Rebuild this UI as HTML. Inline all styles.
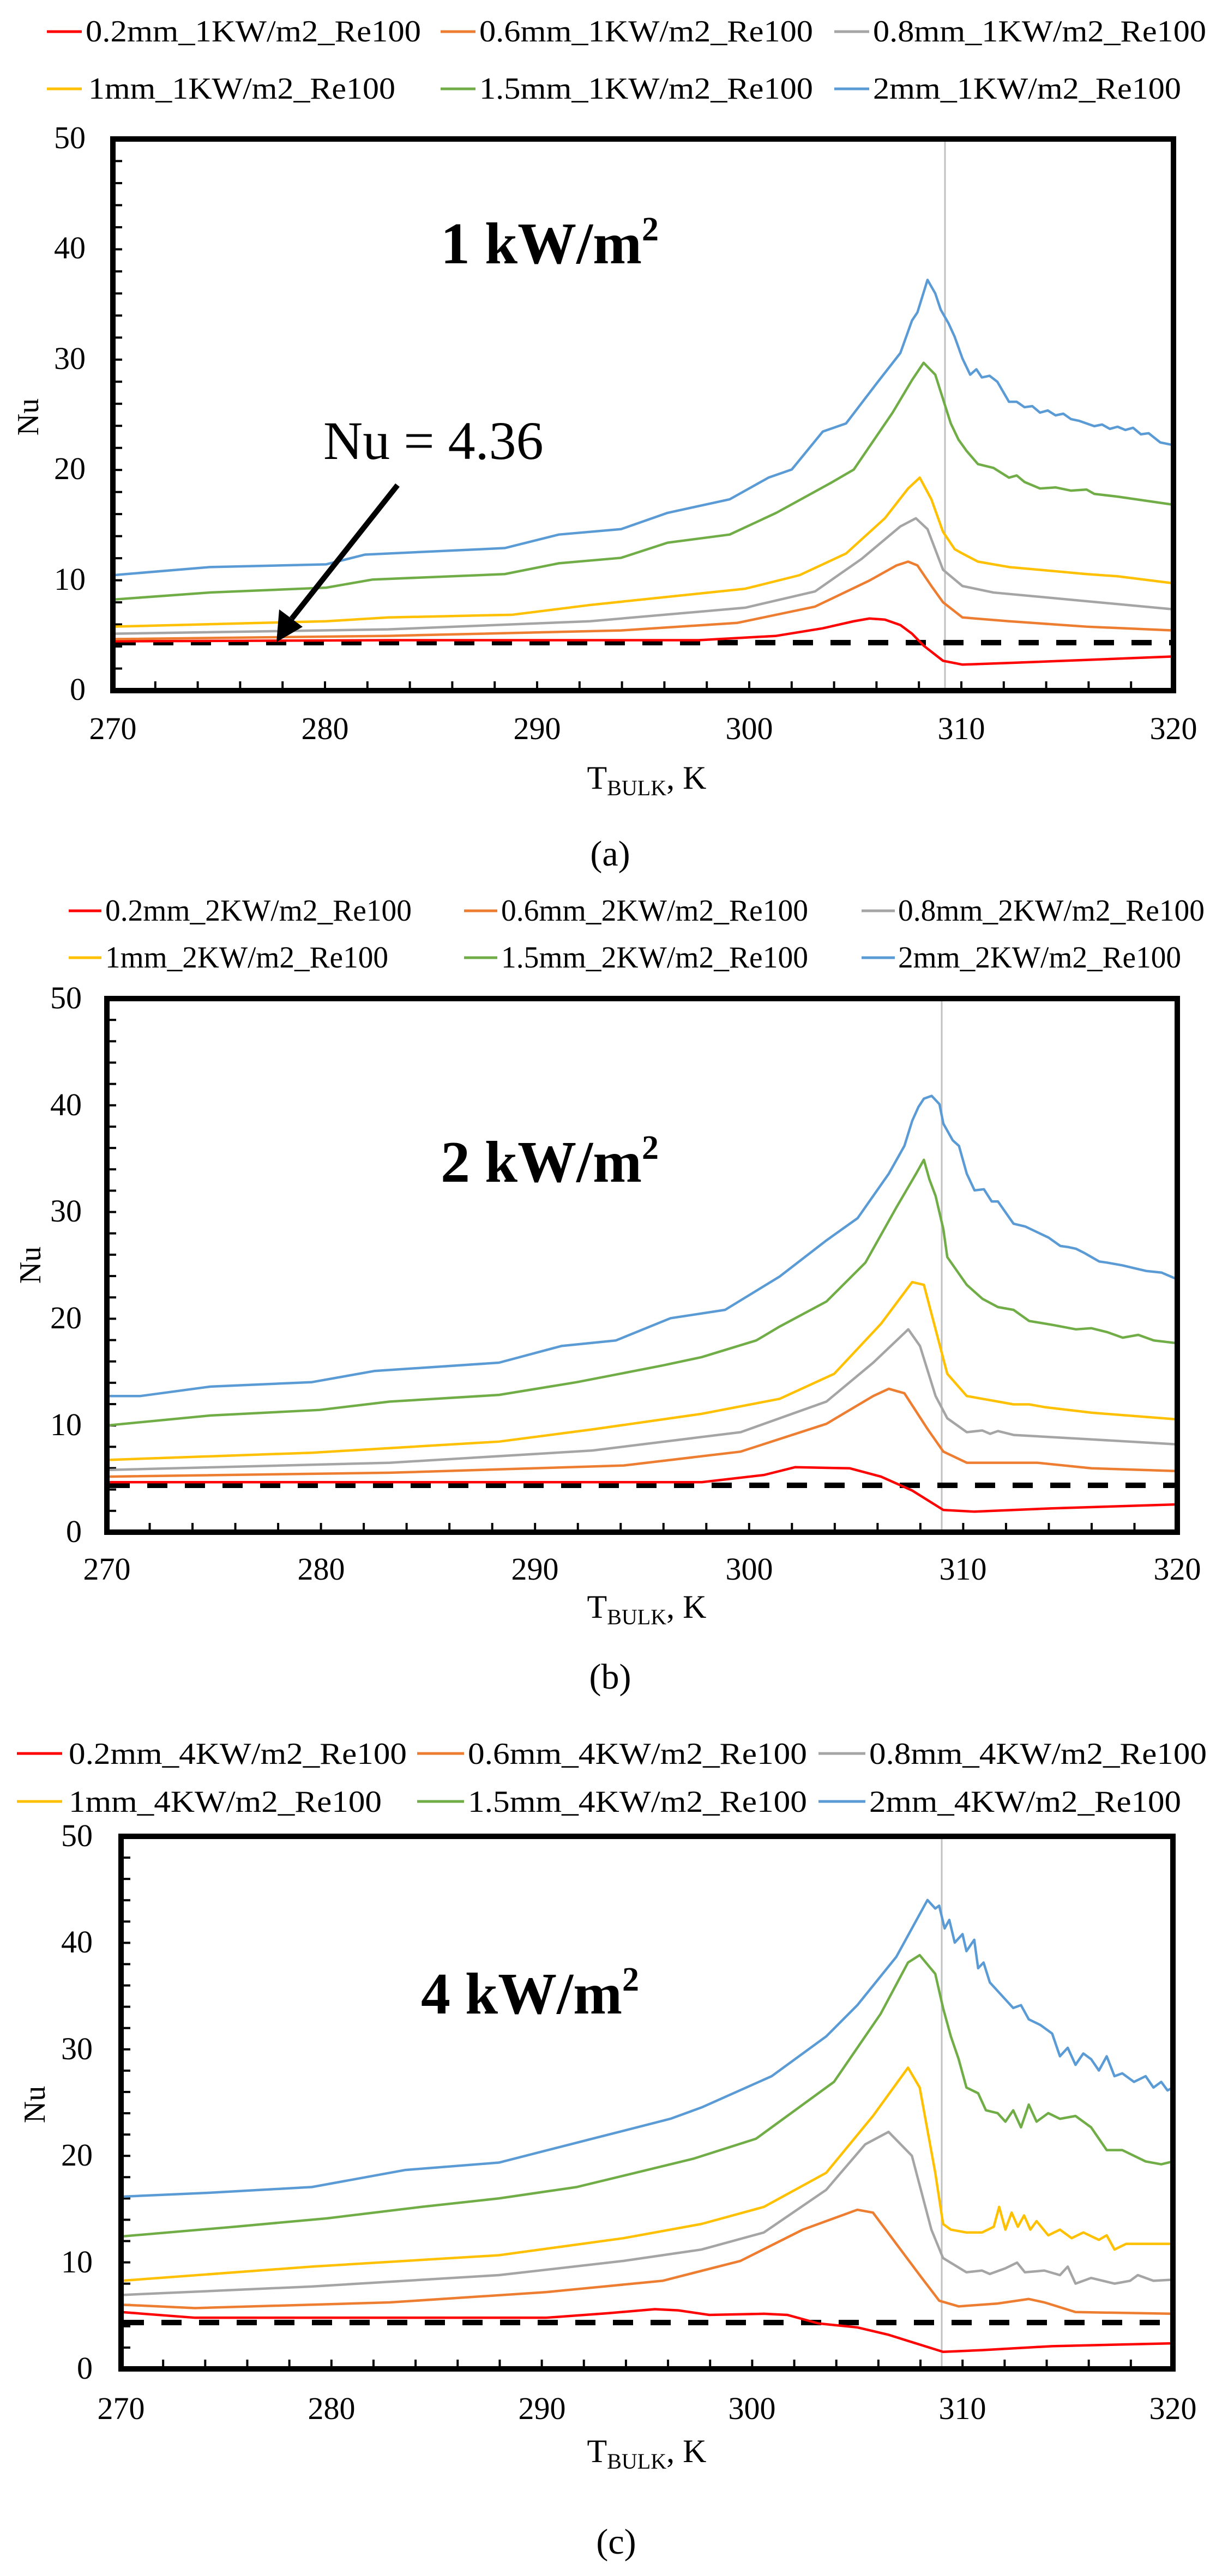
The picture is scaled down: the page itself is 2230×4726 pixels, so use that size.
<!DOCTYPE html>
<html><head><meta charset="utf-8"><style>
html,body{margin:0;padding:0;background:#fff;}
svg{display:block;}
text{font-family:"Liberation Serif",serif;fill:#000;}
.lg{font-size:56px;}
.tk{font-size:58px;}
.s{fill:none;stroke-width:4.5;stroke-linejoin:round;}
</style></head><body>
<svg width="2230" height="4726" viewBox="0 0 2230 4726" xmlns="http://www.w3.org/2000/svg">
<defs>
<pattern id="xa" patternUnits="userSpaceOnUse" x="205" y="0" width="77.8" height="20"><rect x="0" y="0" width="4" height="20" fill="#000"/></pattern>
<pattern id="ya" patternUnits="userSpaceOnUse" x="0" y="1265" width="20" height="40.48"><rect x="0" y="0" width="20" height="4" fill="#000"/></pattern>
<pattern id="xb" patternUnits="userSpaceOnUse" x="194" y="0" width="78.52" height="20"><rect x="0" y="0" width="4" height="20" fill="#000"/></pattern>
<pattern id="yb" patternUnits="userSpaceOnUse" x="0" y="2809" width="20" height="39.16"><rect x="0" y="0" width="20" height="4" fill="#000"/></pattern>
<pattern id="xc" patternUnits="userSpaceOnUse" x="220" y="0" width="77.16" height="20"><rect x="0" y="0" width="4" height="20" fill="#000"/></pattern>
<pattern id="yc" patternUnits="userSpaceOnUse" x="0" y="4344" width="20" height="39.08"><rect x="0" y="0" width="20" height="4" fill="#000"/></pattern>
</defs>

<!-- ================= CHART A ================= -->
<g stroke-width="5">
<line x1="86" y1="58" x2="150" y2="58" stroke="#ff0000"/>
<line x1="808" y1="58" x2="872" y2="58" stroke="#ed7d31"/>
<line x1="1530" y1="58" x2="1594" y2="58" stroke="#a5a5a5"/>
<line x1="86" y1="163" x2="150" y2="163" stroke="#ffc000"/>
<line x1="808" y1="163" x2="872" y2="163" stroke="#70ad47"/>
<line x1="1530" y1="163" x2="1594" y2="163" stroke="#5b9bd5"/>
</g>
<text class="lg" x="157" y="76" textLength="615" lengthAdjust="spacingAndGlyphs">0.2mm_1KW/m2_Re100</text>
<text class="lg" x="879" y="76" textLength="612" lengthAdjust="spacingAndGlyphs">0.6mm_1KW/m2_Re100</text>
<text class="lg" x="1601" y="76" textLength="611" lengthAdjust="spacingAndGlyphs">0.8mm_1KW/m2_Re100</text>
<text class="lg" x="162" y="181" textLength="563" lengthAdjust="spacingAndGlyphs">1mm_1KW/m2_Re100</text>
<text class="lg" x="879" y="181" textLength="612" lengthAdjust="spacingAndGlyphs">1.5mm_1KW/m2_Re100</text>
<text class="lg" x="1601" y="181" textLength="565" lengthAdjust="spacingAndGlyphs">2mm_1KW/m2_Re100</text>

<rect x="205" y="1250" width="1949" height="17" fill="url(#xa)"/>
<rect x="207" y="255" width="17" height="1012" fill="url(#ya)"/>
<line x1="1733" y1="255" x2="1733" y2="1267" stroke="#c0c0c0" stroke-width="3"/>
<line x1="212" y1="1179" x2="2150" y2="1179" stroke="#000" stroke-width="10" stroke-dasharray="37 32"/>
<g transform="matrix(1.4228 0 0 0.9941 0.7 1.5)">
<polyline class="s" vector-effect="non-scaling-stroke" stroke="#ff0000" points="145,1182 500,1180 900,1180 1000,1172 1060,1158 1100,1145 1120,1140 1140,1142 1160,1152 1175,1168 1190,1190 1215,1218 1240,1225 1300,1222 1512,1210"/>
<polyline class="s" vector-effect="non-scaling-stroke" stroke="#ed7d31" points="145,1178 500,1172 800,1162 950,1148 1050,1118 1120,1070 1155,1042 1170,1035 1182,1042 1200,1080 1215,1110 1240,1138 1300,1145 1400,1155 1512,1162"/>
<polyline class="s" vector-effect="non-scaling-stroke" stroke="#a5a5a5" points="145,1168 500,1160 760,1145 960,1120 1050,1090 1110,1030 1160,970 1180,955 1195,975 1215,1050 1240,1080 1280,1092 1400,1108 1512,1123"/>
<polyline class="s" vector-effect="non-scaling-stroke" stroke="#ffc000" points="145,1155 420,1145 500,1138 660,1133 760,1115 860,1100 960,1085 1030,1060 1090,1020 1140,955 1170,900 1185,880 1200,920 1215,980 1230,1012 1240,1020 1260,1035 1300,1045 1400,1058 1440,1062 1512,1075"/>
<polyline class="s" vector-effect="non-scaling-stroke" stroke="#70ad47" points="145,1105 270,1092 420,1083 480,1068 650,1058 720,1038 800,1028 860,1000 940,985 1000,945 1070,890 1100,865 1150,760 1175,700 1190,668 1205,690 1225,780 1235,810 1245,830 1260,855 1280,862 1300,880 1310,876 1320,888 1340,900 1360,898 1380,904 1400,902 1410,910 1440,915 1512,930"/>
<polyline class="s" vector-effect="non-scaling-stroke" stroke="#5b9bd5" points="145,1060 270,1045 420,1040 470,1022 650,1010 720,985 800,975 860,945 940,920 990,880 1020,865 1060,795 1090,780 1130,705 1160,650 1175,590 1182,575 1195,515 1205,540 1212,570 1222,595 1230,620 1240,660 1250,690 1258,680 1265,695 1275,692 1285,703 1300,740 1310,740 1320,750 1330,748 1340,760 1350,756 1360,765 1370,762 1380,772 1390,775 1400,780 1410,785 1420,782 1430,790 1440,786 1450,792 1460,788 1470,800 1480,798 1495,815 1512,820"/>
</g>
<rect x="207" y="255" width="1945" height="1012" fill="none" stroke="#000" stroke-width="10"/>
<g class="tk" text-anchor="end">
<text class="tk" x="157" y="272">50</text><text class="tk" x="157" y="474">40</text><text class="tk" x="157" y="677">30</text><text class="tk" x="157" y="879">20</text><text class="tk" x="157" y="1082">10</text><text class="tk" x="157" y="1284">0</text>
</g>
<g text-anchor="middle">
<text class="tk" x="207" y="1356">270</text><text class="tk" x="596" y="1356">280</text><text class="tk" x="985" y="1356">290</text><text class="tk" x="1374" y="1356">300</text><text class="tk" x="1763" y="1356">310</text><text class="tk" x="2152" y="1356">320</text>
</g>
<text x="1186" y="1447" text-anchor="middle" font-size="60">T<tspan font-size="40" dy="12">BULK</tspan><tspan dy="-12">, K</tspan></text>
<text x="0" y="0" font-size="56" text-anchor="middle" transform="translate(70,765) rotate(-90)">Nu</text>
<text x="1119" y="1588" font-size="66" text-anchor="middle">(a)</text>
<text x="808" y="483" font-size="108" font-weight="bold">1 kW/m<tspan font-size="62" dy="-42">2</tspan></text>
<text x="593" y="842" font-size="100">Nu = 4.36</text>
<line x1="729" y1="890" x2="535" y2="1135" stroke="#000" stroke-width="10"/>
<polygon points="507,1178 512,1118 555,1150" fill="#000"/>

<!-- ================= CHART B ================= -->
<g stroke-width="5">
<line x1="126" y1="1671" x2="186" y2="1671" stroke="#ff0000"/>
<line x1="851" y1="1671" x2="912" y2="1671" stroke="#ed7d31"/>
<line x1="1580" y1="1671" x2="1641" y2="1671" stroke="#a5a5a5"/>
<line x1="126" y1="1757" x2="186" y2="1757" stroke="#ffc000"/>
<line x1="851" y1="1757" x2="912" y2="1757" stroke="#70ad47"/>
<line x1="1580" y1="1757" x2="1641" y2="1757" stroke="#5b9bd5"/>
</g>
<text class="lg" x="193" y="1689" textLength="562" lengthAdjust="spacingAndGlyphs">0.2mm_2KW/m2_Re100</text>
<text class="lg" x="919" y="1689" textLength="563" lengthAdjust="spacingAndGlyphs">0.6mm_2KW/m2_Re100</text>
<text class="lg" x="1647" y="1689" textLength="562" lengthAdjust="spacingAndGlyphs">0.8mm_2KW/m2_Re100</text>
<text class="lg" x="193" y="1775" textLength="519" lengthAdjust="spacingAndGlyphs">1mm_2KW/m2_Re100</text>
<text class="lg" x="919" y="1775" textLength="563" lengthAdjust="spacingAndGlyphs">1.5mm_2KW/m2_Re100</text>
<text class="lg" x="1647" y="1775" textLength="519" lengthAdjust="spacingAndGlyphs">2mm_2KW/m2_Re100</text>

<rect x="194" y="2794" width="1967" height="17" fill="url(#xb)"/>
<rect x="196" y="1832" width="17" height="979" fill="url(#yb)"/>
<line x1="1727" y1="1832" x2="1727" y2="2811" stroke="#c0c0c0" stroke-width="3"/>
<line x1="201" y1="2725" x2="2157" y2="2725" stroke="#000" stroke-width="10" stroke-dasharray="37 32"/>
<g transform="matrix(1.4297 0 0 1.0198 0.1 1500.6)">
<polyline class="s" vector-effect="non-scaling-stroke" stroke="#ff0000" points="137,1195 900,1195 980,1182 1020,1168 1090,1170 1130,1185 1170,1210 1210,1245 1250,1248 1350,1242 1510,1235"/>
<polyline class="s" vector-effect="non-scaling-stroke" stroke="#ed7d31" points="137,1185 500,1178 800,1165 950,1140 1060,1090 1120,1040 1140,1027 1160,1035 1190,1100 1210,1140 1240,1160 1330,1160 1400,1170 1510,1175"/>
<polyline class="s" vector-effect="non-scaling-stroke" stroke="#a5a5a5" points="137,1173 500,1160 760,1138 950,1105 1060,1050 1120,980 1165,920 1180,950 1200,1040 1215,1080 1240,1105 1260,1102 1270,1108 1280,1103 1300,1110 1400,1118 1510,1127"/>
<polyline class="s" vector-effect="non-scaling-stroke" stroke="#ffc000" points="137,1155 400,1142 640,1122 760,1100 900,1072 1000,1045 1070,1000 1130,910 1170,835 1185,840 1200,920 1215,1000 1240,1040 1260,1045 1280,1050 1300,1055 1320,1055 1340,1060 1400,1070 1510,1082"/>
<polyline class="s" vector-effect="non-scaling-stroke" stroke="#70ad47" points="137,1093 270,1075 410,1065 500,1050 640,1038 740,1015 850,985 900,970 970,940 1000,915 1060,870 1110,800 1150,700 1175,640 1185,615 1192,650 1200,680 1210,740 1215,790 1240,840 1260,865 1280,880 1300,885 1320,905 1350,912 1380,920 1400,918 1420,925 1440,935 1460,930 1480,940 1510,945"/>
<polyline class="s" vector-effect="non-scaling-stroke" stroke="#5b9bd5" points="137,1040 180,1040 270,1023 400,1015 480,995 640,980 720,950 790,940 860,900 930,885 1000,825 1060,760 1100,720 1140,640 1160,590 1170,545 1178,520 1185,505 1195,500 1205,515 1210,550 1222,580 1230,590 1240,640 1250,670 1262,668 1272,690 1280,690 1290,710 1300,730 1315,735 1330,745 1345,755 1360,770 1370,772 1380,775 1390,782 1400,790 1410,798 1420,800 1440,805 1455,810 1470,815 1490,818 1510,830"/>
</g>
<rect x="196" y="1832" width="1963" height="979" fill="none" stroke="#000" stroke-width="10"/>
<g text-anchor="end">
<text class="tk" x="150" y="1850">50</text><text class="tk" x="150" y="2046">40</text><text class="tk" x="150" y="2241">30</text><text class="tk" x="150" y="2437">20</text><text class="tk" x="150" y="2633">10</text><text class="tk" x="150" y="2829">0</text>
</g>
<g text-anchor="middle">
<text class="tk" x="196" y="2898">270</text><text class="tk" x="589" y="2898">280</text><text class="tk" x="981" y="2898">290</text><text class="tk" x="1374" y="2898">300</text><text class="tk" x="1766" y="2898">310</text><text class="tk" x="2159" y="2898">320</text>
</g>
<text x="1186" y="2968" text-anchor="middle" font-size="60">T<tspan font-size="40" dy="12">BULK</tspan><tspan dy="-12">, K</tspan></text>
<text x="0" y="0" font-size="56" text-anchor="middle" transform="translate(74,2321) rotate(-90)">Nu</text>
<text x="1119" y="3098" font-size="66" text-anchor="middle">(b)</text>
<text x="808" y="2168" font-size="108" font-weight="bold">2 kW/m<tspan font-size="62" dy="-42">2</tspan></text>

<!-- ================= CHART C ================= -->
<g stroke-width="5">
<line x1="31" y1="3217" x2="114" y2="3217" stroke="#ff0000"/>
<line x1="765" y1="3217" x2="851" y2="3217" stroke="#ed7d31"/>
<line x1="1501" y1="3217" x2="1587" y2="3217" stroke="#a5a5a5"/>
<line x1="31" y1="3305" x2="114" y2="3305" stroke="#ffc000"/>
<line x1="765" y1="3305" x2="851" y2="3305" stroke="#70ad47"/>
<line x1="1501" y1="3305" x2="1587" y2="3305" stroke="#5b9bd5"/>
</g>
<text class="lg" x="126" y="3236" textLength="620" lengthAdjust="spacingAndGlyphs">0.2mm_4KW/m2_Re100</text>
<text class="lg" x="858" y="3236" textLength="622" lengthAdjust="spacingAndGlyphs">0.6mm_4KW/m2_Re100</text>
<text class="lg" x="1594" y="3236" textLength="619" lengthAdjust="spacingAndGlyphs">0.8mm_4KW/m2_Re100</text>
<text class="lg" x="126" y="3324" textLength="574" lengthAdjust="spacingAndGlyphs">1mm_4KW/m2_Re100</text>
<text class="lg" x="858" y="3324" textLength="622" lengthAdjust="spacingAndGlyphs">1.5mm_4KW/m2_Re100</text>
<text class="lg" x="1594" y="3324" textLength="572" lengthAdjust="spacingAndGlyphs">2mm_4KW/m2_Re100</text>

<rect x="220" y="4329" width="1933" height="17" fill="url(#xc)"/>
<rect x="222" y="3369" width="17" height="977" fill="url(#yc)"/>
<line x1="1727" y1="3369" x2="1727" y2="4346" stroke="#c0c0c0" stroke-width="3"/>
<line x1="227" y1="4261" x2="2149" y2="4261" stroke="#000" stroke-width="10" stroke-dasharray="37 32"/>
<g transform="matrix(1.4289 0 0 1.0427 0.5 3100)">
<polyline class="s" vector-effect="non-scaling-stroke" stroke="#ff0000" points="155,1095 250,1105 700,1105 780,1097 840,1090 870,1092 910,1100 980,1098 1010,1100 1050,1115 1100,1122 1140,1135 1210,1165 1260,1162 1350,1155 1505,1150"/>
<polyline class="s" vector-effect="non-scaling-stroke" stroke="#ed7d31" points="155,1082 250,1088 500,1078 700,1060 850,1040 950,1005 1030,950 1100,915 1120,920 1150,975 1180,1030 1205,1075 1230,1085 1280,1080 1320,1072 1340,1078 1380,1095 1505,1098"/>
<polyline class="s" vector-effect="non-scaling-stroke" stroke="#a5a5a5" points="155,1065 400,1050 640,1030 800,1005 900,985 980,955 1060,880 1110,800 1140,778 1170,820 1195,950 1210,1000 1240,1025 1260,1022 1270,1028 1290,1018 1305,1008 1315,1025 1340,1022 1360,1030 1370,1015 1380,1045 1400,1035 1430,1045 1450,1040 1460,1030 1480,1040 1505,1038"/>
<polyline class="s" vector-effect="non-scaling-stroke" stroke="#ffc000" points="155,1040 400,1015 640,995 800,965 900,940 980,910 1060,850 1120,750 1165,665 1180,700 1200,850 1210,940 1220,950 1240,955 1260,955 1275,945 1282,910 1290,950 1298,920 1306,945 1314,925 1322,950 1330,935 1345,960 1360,950 1375,965 1390,955 1410,968 1420,960 1430,985 1445,975 1460,975 1505,975"/>
<polyline class="s" vector-effect="non-scaling-stroke" stroke="#70ad47" points="155,962 300,945 420,930 540,910 640,895 740,875 800,855 890,825 970,790 1070,690 1130,570 1165,480 1180,467 1200,500 1210,560 1220,610 1230,650 1240,700 1255,710 1265,740 1280,745 1290,760 1300,740 1310,770 1320,730 1330,760 1345,745 1360,755 1380,750 1400,770 1420,810 1440,810 1470,830 1490,835 1505,830"/>
<polyline class="s" vector-effect="non-scaling-stroke" stroke="#5b9bd5" points="155,892 270,885 400,875 520,845 640,832 760,790 860,755 900,735 990,680 1060,610 1100,555 1150,470 1170,420 1190,370 1200,385 1205,380 1212,420 1218,405 1225,445 1235,430 1240,460 1250,440 1255,490 1262,480 1270,515 1280,530 1290,545 1300,560 1310,555 1320,580 1335,590 1350,605 1360,645 1370,630 1380,660 1390,640 1400,650 1410,670 1420,645 1430,680 1440,675 1455,690 1470,680 1480,700 1490,690 1498,705 1505,700"/>
</g>
<rect x="222" y="3369" width="1929" height="977" fill="none" stroke="#000" stroke-width="10"/>
<g text-anchor="end">
<text class="tk" x="170" y="3387">50</text><text class="tk" x="170" y="3582">40</text><text class="tk" x="170" y="3778">30</text><text class="tk" x="170" y="3973">20</text><text class="tk" x="170" y="4169">10</text><text class="tk" x="170" y="4364">0</text>
</g>
<g text-anchor="middle">
<text class="tk" x="222" y="4438">270</text><text class="tk" x="608" y="4438">280</text><text class="tk" x="994" y="4438">290</text><text class="tk" x="1379" y="4438">300</text><text class="tk" x="1765" y="4438">310</text><text class="tk" x="2151" y="4438">320</text>
</g>
<text x="1186" y="4517" text-anchor="middle" font-size="60">T<tspan font-size="40" dy="12">BULK</tspan><tspan dy="-12">, K</tspan></text>
<text x="0" y="0" font-size="56" text-anchor="middle" transform="translate(82,3861) rotate(-90)">Nu</text>
<text x="1130" y="4685" font-size="66" text-anchor="middle">(c)</text>
<text x="772" y="3694" font-size="108" font-weight="bold">4 kW/m<tspan font-size="62" dy="-42">2</tspan></text>
</svg>
</body></html>
